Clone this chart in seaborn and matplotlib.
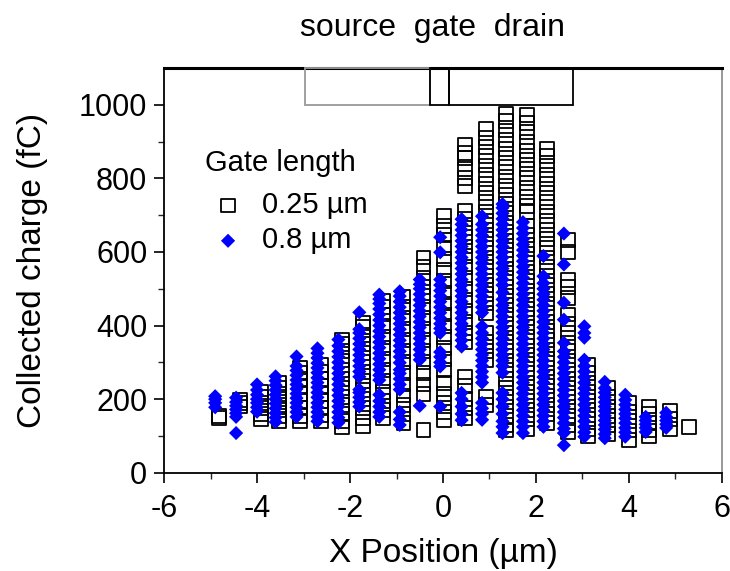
import pandas as pd
import seaborn as sns
import matplotlib.pyplot as plt
from matplotlib.patches import Rectangle

# Gate length 0.25 um (open squares): column x positions and charges per column
pos_025 = [-4.82, -4.37, -3.92, -3.52, -3.07, -2.62, -2.17, -1.72, -1.29, -0.85, -0.42, 0.02,
           0.48, 0.92, 1.36, 1.8, 2.24, 2.68, 3.12, 3.56, 4.0, 4.44, 4.88, 5.3]
val_025 = [
    [150, 155],
    [180, 190, 198],
    [145, 160, 175, 190, 205, 220],
    [140, 155, 170, 185, 200, 215, 230, 245],
    [140, 155, 175, 195, 215, 235, 255, 270, 286],
    [140, 158, 176, 195, 215, 235, 255, 275, 294],
    [125, 140, 160, 185, 205, 230, 255, 280, 305, 330, 350, 362],
    [128, 150, 175, 200, 225, 250, 275, 300, 325, 350, 375, 395, 408],
    [150, 170, 195, 220, 250, 280, 310, 340, 370, 400, 430, 450, 466],
    [135, 160, 185, 210, 240, 270, 300, 330, 360, 390, 420, 450, 479],
    [117, 215, 240, 270, 300, 330, 360, 390, 420, 450, 480, 505, 530, 560, 585],
    [143, 165, 190, 215, 245, 280, 310, 340, 370, 400, 430, 460, 490, 520, 550, 580, 610,
     645, 670, 697],
    [148, 175, 200, 235, 261, 355, 380, 410, 440, 470, 500, 530, 560, 590, 615, 640, 665,
     690, 712, 780, 800, 826, 855, 870, 892],
    [183, 207, 307, 330, 355, 381, 435, 460, 485, 510, 535, 560, 585, 610, 635, 660, 685,
     710, 735, 760, 785, 810, 835, 860, 885, 910, 935],
    [115, 130, 155, 180, 205, 230, 255, 280, 305, 330, 355, 380, 405, 430, 455, 480, 505,
     530, 555, 580, 605, 630, 655, 680, 705, 730, 755, 780, 805, 830, 855, 880, 905, 930,
     955, 975],
    [118, 145, 170, 195, 220, 245, 270, 295, 320, 345, 370, 395, 420, 445, 470, 495, 520,
     545, 570, 595, 620, 645, 670, 708, 725, 750, 775, 800, 825, 850, 875, 900, 925, 950, 972],
    [135, 160, 185, 210, 235, 260, 285, 310, 335, 360, 385, 410, 435, 460, 485, 510, 535,
     560, 585, 610, 635, 660, 685, 710, 735, 760, 785, 810, 835, 860, 880],
    [110, 130, 155, 180, 205, 230, 255, 280, 305, 330, 353, 380, 405, 430, 476, 505, 525,
     600, 632],
    [100, 120, 145, 170, 195, 220, 245, 270, 294],
    [105, 130, 155, 180, 205, 231],
    [90, 115, 140, 165, 190],
    [100, 115, 135, 160, 180],
    [120, 145, 168],
    [125],
]

# Gate length 0.8 um (blue diamonds)
pos_08 = [-4.9, -4.45, -4.0, -3.6, -3.15, -2.7, -2.25, -1.8, -1.37, -0.93, -0.5, -0.06,
          0.4, 0.84, 1.28, 1.72, 2.16, 2.6, 3.04, 3.48, 3.92, 4.36, 4.8]
val_08 = [
    [178, 190, 200, 208],
    [108, 152, 162, 172, 182, 192, 204],
    [166, 178, 190, 200, 212, 225, 240],
    [138, 150, 162, 175, 188, 200, 212, 225, 238, 250, 262],
    [152, 165, 178, 190, 203, 215, 228, 240, 252, 265, 278, 290, 316],
    [140, 152, 165, 178, 190, 205, 218, 232, 245, 258, 272, 285, 298, 312, 325, 338],
    [136, 150, 165, 180, 195, 210, 225, 240, 255, 270, 285, 300, 315, 330, 345, 362],
    [180, 192, 205, 218, 226, 261, 275, 290, 305, 320, 335, 350, 365, 380, 390, 436],
    [152, 165, 180, 195, 212, 252, 265, 280, 295, 310, 325, 340, 355, 370, 385, 400, 415,
     430, 445, 460, 472, 484],
    [130, 145, 165, 226, 240, 255, 270, 280, 299, 315, 330, 345, 360, 375, 390, 405, 420,
     435, 450, 465, 480, 493],
    [182, 307, 320, 335, 350, 365, 380, 395, 410, 425, 440, 455, 470, 485, 500, 512, 525],
    [180, 289, 300, 315, 328, 380, 392, 405, 420, 435, 450, 465, 480, 495, 510, 525, 599, 640],
    [143, 160, 180, 200, 217, 343, 360, 375, 390, 405, 420, 435, 450, 465, 480, 495, 510,
     525, 540, 555, 570, 585, 600, 615, 630, 645, 660, 675, 689],
    [144, 160, 175, 190, 245, 260, 275, 290, 305, 320, 335, 350, 365, 380, 398, 435, 450,
     465, 480, 495, 510, 525, 540, 555, 570, 585, 600, 615, 630, 645, 660, 675, 697],
    [108, 125, 140, 160, 180, 200, 217, 272, 290, 305, 320, 335, 350, 365, 380, 395, 410,
     425, 440, 455, 471, 490, 510, 525, 540, 555, 570, 585, 600, 615, 630, 645, 660, 675,
     690, 705, 720, 730],
    [108, 125, 140, 155, 170, 185, 200, 215, 230, 245, 260, 275, 290, 305, 320, 335, 350,
     365, 380, 395, 410, 425, 440, 455, 470, 485, 500, 515, 530, 545, 560, 575, 590, 605,
     620, 635, 650, 665, 681],
    [125, 140, 155, 170, 185, 200, 215, 230, 245, 260, 275, 290, 305, 320, 335, 350, 365,
     380, 395, 410, 425, 440, 455, 470, 485, 500, 515, 534, 589],
    [75, 108, 120, 135, 150, 165, 180, 195, 210, 225, 240, 255, 270, 285, 300, 315, 330,
     353, 416, 462, 566, 650],
    [98, 110, 125, 140, 155, 170, 185, 200, 215, 230, 245, 260, 275, 290, 307, 367, 380, 398],
    [94, 105, 118, 130, 142, 155, 168, 180, 192, 205, 218, 230, 247],
    [98, 110, 122, 135, 148, 160, 172, 185, 198, 212],
    [111, 122, 132, 142, 152],
    [122, 132, 142, 152, 163],
]

# Device regions drawn on top of the plot (x start, x end)
device_names = ["source", "gate", "drain"]
device_x = [(-2.96, -0.29), (-0.29, 0.13), (0.13, 2.8)]
device_edge = ["#999999", "black", "black"]

df25 = pd.DataFrame({"x": [p for p, v in zip(pos_025, val_025) for _ in v],
                     "y": [y for v in val_025 for y in v]})
df08 = pd.DataFrame({"x": [p for p, v in zip(pos_08, val_08) for _ in v],
                     "y": [y for v in val_08 for y in v]})

sns.set_style("ticks")
plt.rcParams["font.family"] = ["Liberation Sans", "DejaVu Sans"]
plt.rcParams["axes.unicode_minus"] = False
plt.rcParams["text.color"] = "black"
plt.rcParams["axes.labelcolor"] = "black"

fig = plt.figure(figsize=(7.3, 5.71), dpi=100)
ax = fig.add_axes([0.2247, 0.172, 0.7643, 0.709])

sns.scatterplot(data=df25, x="x", y="y", marker="s", s=100, facecolor="none",
                edgecolor="black", linewidth=1.3, label="0.25 µm", ax=ax, zorder=2)
sns.scatterplot(data=df08, x="x", y="y", marker="D", s=52, color="#0000ff",
                edgecolor="none", linewidth=0, label="0.8 µm", ax=ax, zorder=3)

for (x0, x1), ec in zip(device_x, device_edge):
    ax.add_patch(Rectangle((x0, 1000), x1 - x0, 100, facecolor="none", edgecolor=ec,
                           linewidth=1.3, zorder=4, clip_on=False))

ax.set_xlim(-6, 6)
ax.set_ylim(0, 1100)
ax.set_xticks([-6, -4, -2, 0, 2, 4, 6])
ax.set_xticks([-5, -3, -1, 1, 3, 5], minor=True)
ax.set_yticks([0, 200, 400, 600, 800, 1000])
ax.set_yticks([100, 300, 500, 700, 900], minor=True)
ax.tick_params(axis="both", which="major", direction="out", length=7, width=1.2,
               labelsize=22, colors="black", pad=5)
ax.tick_params(axis="x", which="major", pad=8)
ax.tick_params(axis="both", which="minor", direction="out", length=4, width=1.0)
ax.set_xlabel("X Position (µm)", fontsize=24, labelpad=10)
ax.set_ylabel("Collected charge (fC)", fontsize=24, labelpad=22)

for side in ["left", "bottom"]:
    ax.spines[side].set_linewidth(1.3)
    ax.spines[side].set_color("black")
ax.spines["top"].set_linewidth(2.2)
ax.spines["top"].set_color("black")
ax.spines["right"].set_linewidth(1.2)
ax.spines["right"].set_color("#888888")

leg = ax.legend(title="Gate length", loc="upper left", bbox_to_anchor=(0.052, 0.828),
                frameon=False, fontsize=21, title_fontsize=21, handletextpad=0.35,
                handlelength=1.6, labelspacing=0.25, borderaxespad=0, markerscale=1.0)
leg._legend_box.align = "left"
leg._legend_box.sep = 10

fig.text(0.592, 0.951, "source  gate  drain", ha="center", va="center", fontsize=23)

fig.savefig("out.png", dpi=100)
